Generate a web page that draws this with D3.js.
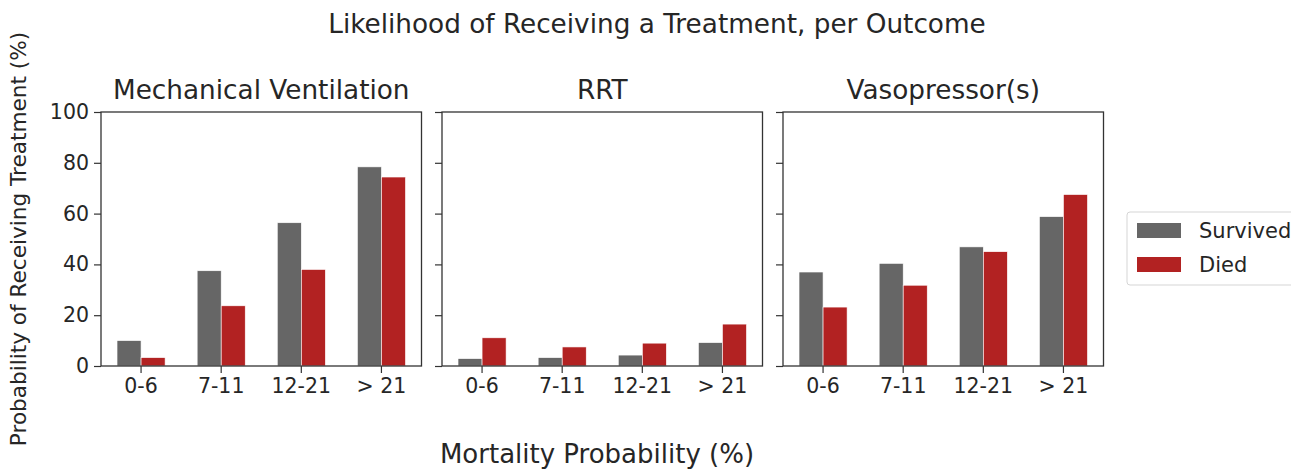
<!DOCTYPE html>
<html>
<head>
<meta charset="utf-8">
<script src="https://cdn.jsdelivr.net/npm/d3@7"></script>
<style>
  body { margin: 0; background: #fff; }
  text { font-family: "DejaVu Sans", sans-serif; fill: #262626; }
</style>
</head>
<body>
<div id="chart"></div>
<script>
// ============================================================================
// data
// ============================================================================

const categories = ["0-6", "7-11", "12-21", "> 21"];
const treatments = ["Mechanical Ventilation", "RRT", "Vasopressor(s)"];
const outcomes = ["Survived", "Died"];

// percent receiving the treatment, per mortality bin
const ventSurvived = [10, 37.5, 56.4, 78.4];
const ventDied     = [3.3, 23.7, 38, 74.4];
const rrtSurvived  = [2.9, 3.3, 4.3, 9.2];
const rrtDied      = [11.1, 7.5, 9.0, 16.5];
const vasoSurvived = [37, 40.4, 46.9, 58.8];
const vasoDied     = [23.2, 31.8, 45, 67.5];

const yTicks = [0, 20, 40, 60, 80, 100];

const panels = [
    { title: treatments[0], survived: ventSurvived, died: ventDied },
    { title: treatments[1], survived: rrtSurvived, died: rrtDied },
    { title: treatments[2], survived: vasoSurvived, died: vasoDied }
];

// ============================================================================
// drawing
// ============================================================================

const width = 1291, height = 474;
const color = d3.scaleOrdinal(outcomes, ["#666666", "#b22222"]);

const svg = d3.select("#chart").append("svg")
    .attr("width", width)
    .attr("height", height);

// layout of the three axes boxes
const plotTop = 112, plotBottom = 366;
const panelW = 320.5, gap = 20.5, left0 = 101;

const y = d3.scaleLinear().domain([0, 100]).range([plotBottom, plotTop]);

panels.forEach((p, i) => {
    const x0 = left0 + i * (panelW + gap);
    const x = d3.scaleBand().domain(categories).range([x0, x0 + panelW]);
    const barW = x.step() * 0.3;

    const g = svg.append("g");

    // bars
    const rows = categories.map((c, j) => ({ cat: c, survived: p.survived[j], died: p.died[j] }));
    outcomes.forEach((o, k) => {
        const key = o.toLowerCase();
        g.append("g")
          .selectAll("rect")
          .data(rows)
          .join("rect")
            .attr("x", d => x(d.cat) + x.bandwidth() / 2 - barW + k * barW)
            .attr("y", d => y(d[key]))
            .attr("width", barW)
            .attr("height", d => y(0) - y(d[key]))
            .attr("fill", color(o))
            .attr("stroke", "#fff")
            .attr("stroke-width", 0.6);
    });

    // y axis (labels only on first panel)
    const yAxis = d3.axisLeft(y).tickValues(yTicks).tickSize(7).tickPadding(5);
    if (i > 0) yAxis.tickFormat("");
    const ya = g.append("g")
        .attr("transform", `translate(${x0},0)`)
        .call(yAxis);

    // x axis
    const xa = g.append("g")
        .attr("transform", `translate(0,${plotBottom})`)
        .call(d3.axisBottom(x).tickSize(7).tickPadding(5));

    [ya, xa].forEach(a => {
        a.select(".domain").remove();
        a.selectAll("line").attr("stroke", "#333").attr("stroke-width", 1.2);
        a.selectAll("text")
            .style("font-family", "DejaVu Sans, sans-serif")
            .style("font-size", "20.5px")
            .attr("fill", "#262626");
    });

    // frame
    g.append("rect")
        .attr("x", x0)
        .attr("y", plotTop)
        .attr("width", panelW)
        .attr("height", plotBottom - plotTop)
        .attr("fill", "none")
        .attr("stroke", "#333")
        .attr("stroke-width", 1.3);

    // panel title
    g.append("text")
        .attr("x", x0 + panelW / 2)
        .attr("y", 99)
        .attr("text-anchor", "middle")
        .style("font-size", "26.3px")
        .text(p.title);
});

// suptitle
svg.append("text")
    .attr("x", 657)
    .attr("y", 33)
    .attr("text-anchor", "middle")
    .style("font-size", "26.3px")
    .text("Likelihood of Receiving a Treatment, per Outcome");

// axis labels
svg.append("text")
    .attr("x", 597)
    .attr("y", 463)
    .attr("text-anchor", "middle")
    .style("font-size", "26px")
    .text("Mortality Probability (%)");

svg.append("text")
    .attr("transform", `translate(26,${(plotTop + plotBottom) / 2}) rotate(-90)`)
    .attr("text-anchor", "middle")
    .style("font-size", "21.6px")
    .text("Probability of Receiving Treatment (%)");

// legend
const legend = svg.append("g").attr("transform", "translate(1127,212)");
legend.append("rect")
    .attr("width", 200)
    .attr("height", 73)
    .attr("rx", 3)
    .attr("fill", "#fff")
    .attr("stroke", "#d5d5d5");

outcomes.forEach((o, k) => {
    legend.append("rect")
        .attr("x", 10)
        .attr("y", 11 + k * 34)
        .attr("width", 44)
        .attr("height", 15)
        .attr("fill", color(o));
    legend.append("text")
        .attr("x", 72)
        .attr("y", 18.5 + k * 34)
        .attr("dy", "0.35em")
        .style("font-size", "21px")
        .text(o);
});
</script>
</body>
</html>
